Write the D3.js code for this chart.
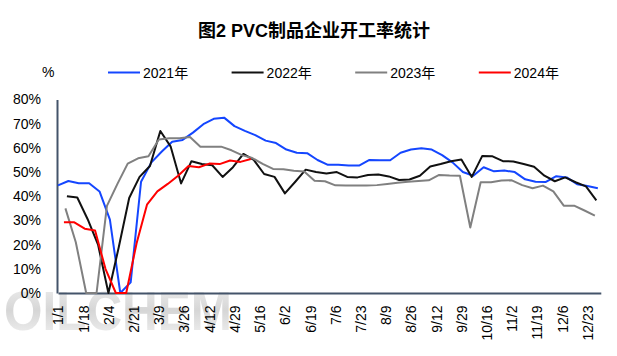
<!DOCTYPE html>
<html><head><meta charset="utf-8">
<script src="https://cdn.jsdelivr.net/npm/d3@7"></script>
<style>body{margin:0;background:#fff;}svg{display:block;}</style>
</head><body><svg id="c" width="617" height="356"></svg>
<script>
// ---- data ----
const title = "图2 PVC制品企业开工率统计";
const unitLabel = "%";
const seriesNames = ["2021年", "2022年", "2023年", "2024年"];
const seriesColors = ["#1446ff", "#111111", "#808080", "#ff0000"];
// first weekly observation, day of year (axis base 2024-01-01)
const seriesStartDay = [0, 6, 5, 4];
const weekStep = 7;
const v2021 = [44.5,46.3,45.4,45.4,42,30.3,0,4.4,46,54,58.5,62.5,63.3,66.3,69.8,72,72.5,69,67,65.3,63,62,59.3,58,57.8,55,53,53,52.7,52.7,55,54.9,54.9,58,59.3,59.8,59.3,57,54,50,48.5,52,50.3,50.6,50,47,46,45.9,48.3,47.8,45,44.2,43.3];
const v2022 = [40,39.5,30.5,20,0,19,39.3,48,52.5,67,60.5,45.3,54.5,53.3,52.8,48,52,57.5,55,49.2,48,41.2,46,51,50,49.4,50,48,47.8,48.8,49,48.2,46.7,46.9,48.5,52.3,53.3,54.5,55.2,48,56.6,56.5,54.5,54.4,53.3,52.2,48.5,46.2,47.8,45.8,44.1,38.3];
const v2023 = [35,21,0,0,36,45,53.5,55.7,56.5,63.5,64,64,64.5,60.5,60.5,60.5,59,57,55.8,53.4,51.3,51.2,50.5,50.2,46.4,46.2,44.5,44.4,44.4,44.4,44.6,45.1,45.6,46,46.3,46.6,48.8,48.6,48.5,27.1,45.8,45.8,46.5,46.6,44.6,43.3,44.4,42,36.1,36.1,34.1,32];
const v2024 = [29.2,29.2,26.6,25.8,10,0,0,20.6,36.5,42,45.1,48.5,52.5,52,53.5,53.3,54.8,54.2,55.4];
const seriesValues = [v2021, v2022, v2023, v2024];
const tickLabels = ["1/1","1/18","2/4","2/21","3/9","3/26","4/12","4/29","5/16","6/2","6/19","7/6","7/23","8/9","8/26","9/12","9/29","10/16","11/2","11/19","12/6","12/23"];
const tickStepDays = 17;
const yTicks = [0,10,20,30,40,50,60,70,80];

// ---- drawing ----
const svg = d3.select("#c");
const font = "'Liberation Sans','Noto Sans CJK SC',sans-serif";
const axisColor = "#44546a";

// watermark
const defs = svg.append("defs");
const g0 = defs.append("linearGradient").attr("id","wm").attr("x1",0).attr("y1",0).attr("x2",0).attr("y2",1);
g0.append("stop").attr("offset","0%").attr("stop-color","#f2f2f2");
g0.append("stop").attr("offset","50%").attr("stop-color","#d6d6d6");
g0.append("stop").attr("offset","100%").attr("stop-color","#f4f4f4");
svg.append("text").attr("x",4).attr("y",330)
  .attr("font-family",font).attr("font-weight","bold").attr("font-size",56)
  .attr("textLength",228).attr("lengthAdjust","spacingAndGlyphs")
  .attr("fill","url(#wm)").text("OILCHEM");

const x = d3.scaleLinear().domain([0, 366]).range([58, 600.8]);
const y = d3.scaleLinear().domain([0, 80]).range([293, 99.5]);

// title
svg.append("text").attr("x",314).attr("y",37).attr("text-anchor","middle")
  .attr("font-family",font).attr("font-weight","bold").attr("font-size",18)
  .attr("fill","#000").text(title);

// legend
svg.append("text").attr("x",42).attr("y",77).attr("font-family",font).attr("font-size",14).text(unitLabel);
seriesNames.forEach((n,i)=>{
  const lx = 108 + i*123.6;
  svg.append("line").attr("x1",lx).attr("x2",lx+32).attr("y1",72.5).attr("y2",72.5)
    .attr("stroke",seriesColors[i]).attr("stroke-width",2);
  svg.append("text").attr("x",lx+35).attr("y",77.5).attr("font-family",font).attr("font-size",14)
    .attr("fill","#000").text(n);
});

// y axis labels
const yAxis = d3.axisLeft(y).tickValues(yTicks).tickSize(0).tickPadding(16).tickFormat(d=>d+"%");
const gy = svg.append("g").attr("transform","translate(57,0)").call(yAxis);
gy.select(".domain").attr("stroke",axisColor).attr("stroke-width",2);
gy.selectAll("text").attr("font-family",font).attr("font-size",14).attr("fill","#000");

// x axis
const xTickVals = tickLabels.map((_,i)=>i*tickStepDays);
const xAxis = d3.axisBottom(x).tickValues(xTickVals).tickSize(0).tickFormat((d,i)=>tickLabels[i]);
const gx = svg.append("g").attr("transform","translate(0,293)").call(xAxis);
gx.select(".domain").attr("stroke",axisColor).attr("stroke-width",2);
gx.selectAll("text").attr("font-family",font).attr("font-size",14).attr("fill","#000")
  .attr("text-anchor","end").attr("dy",null)
  .attr("transform","translate(0,12.5) rotate(-90)").attr("x",0).attr("y",0).attr("dy","0.35em");

// lines
const line = d3.line().x(d=>x(d[0])).y(d=>y(d[1]));
seriesValues.forEach((vals,i)=>{
  const pts = vals.map((v,k)=>[seriesStartDay[i] + k*weekStep, v]);
  svg.append("path").datum(pts).attr("d",line).attr("fill","none")
    .attr("stroke",seriesColors[i]).attr("stroke-width",2).attr("stroke-linejoin","round");
});
</script>
</body></html>
